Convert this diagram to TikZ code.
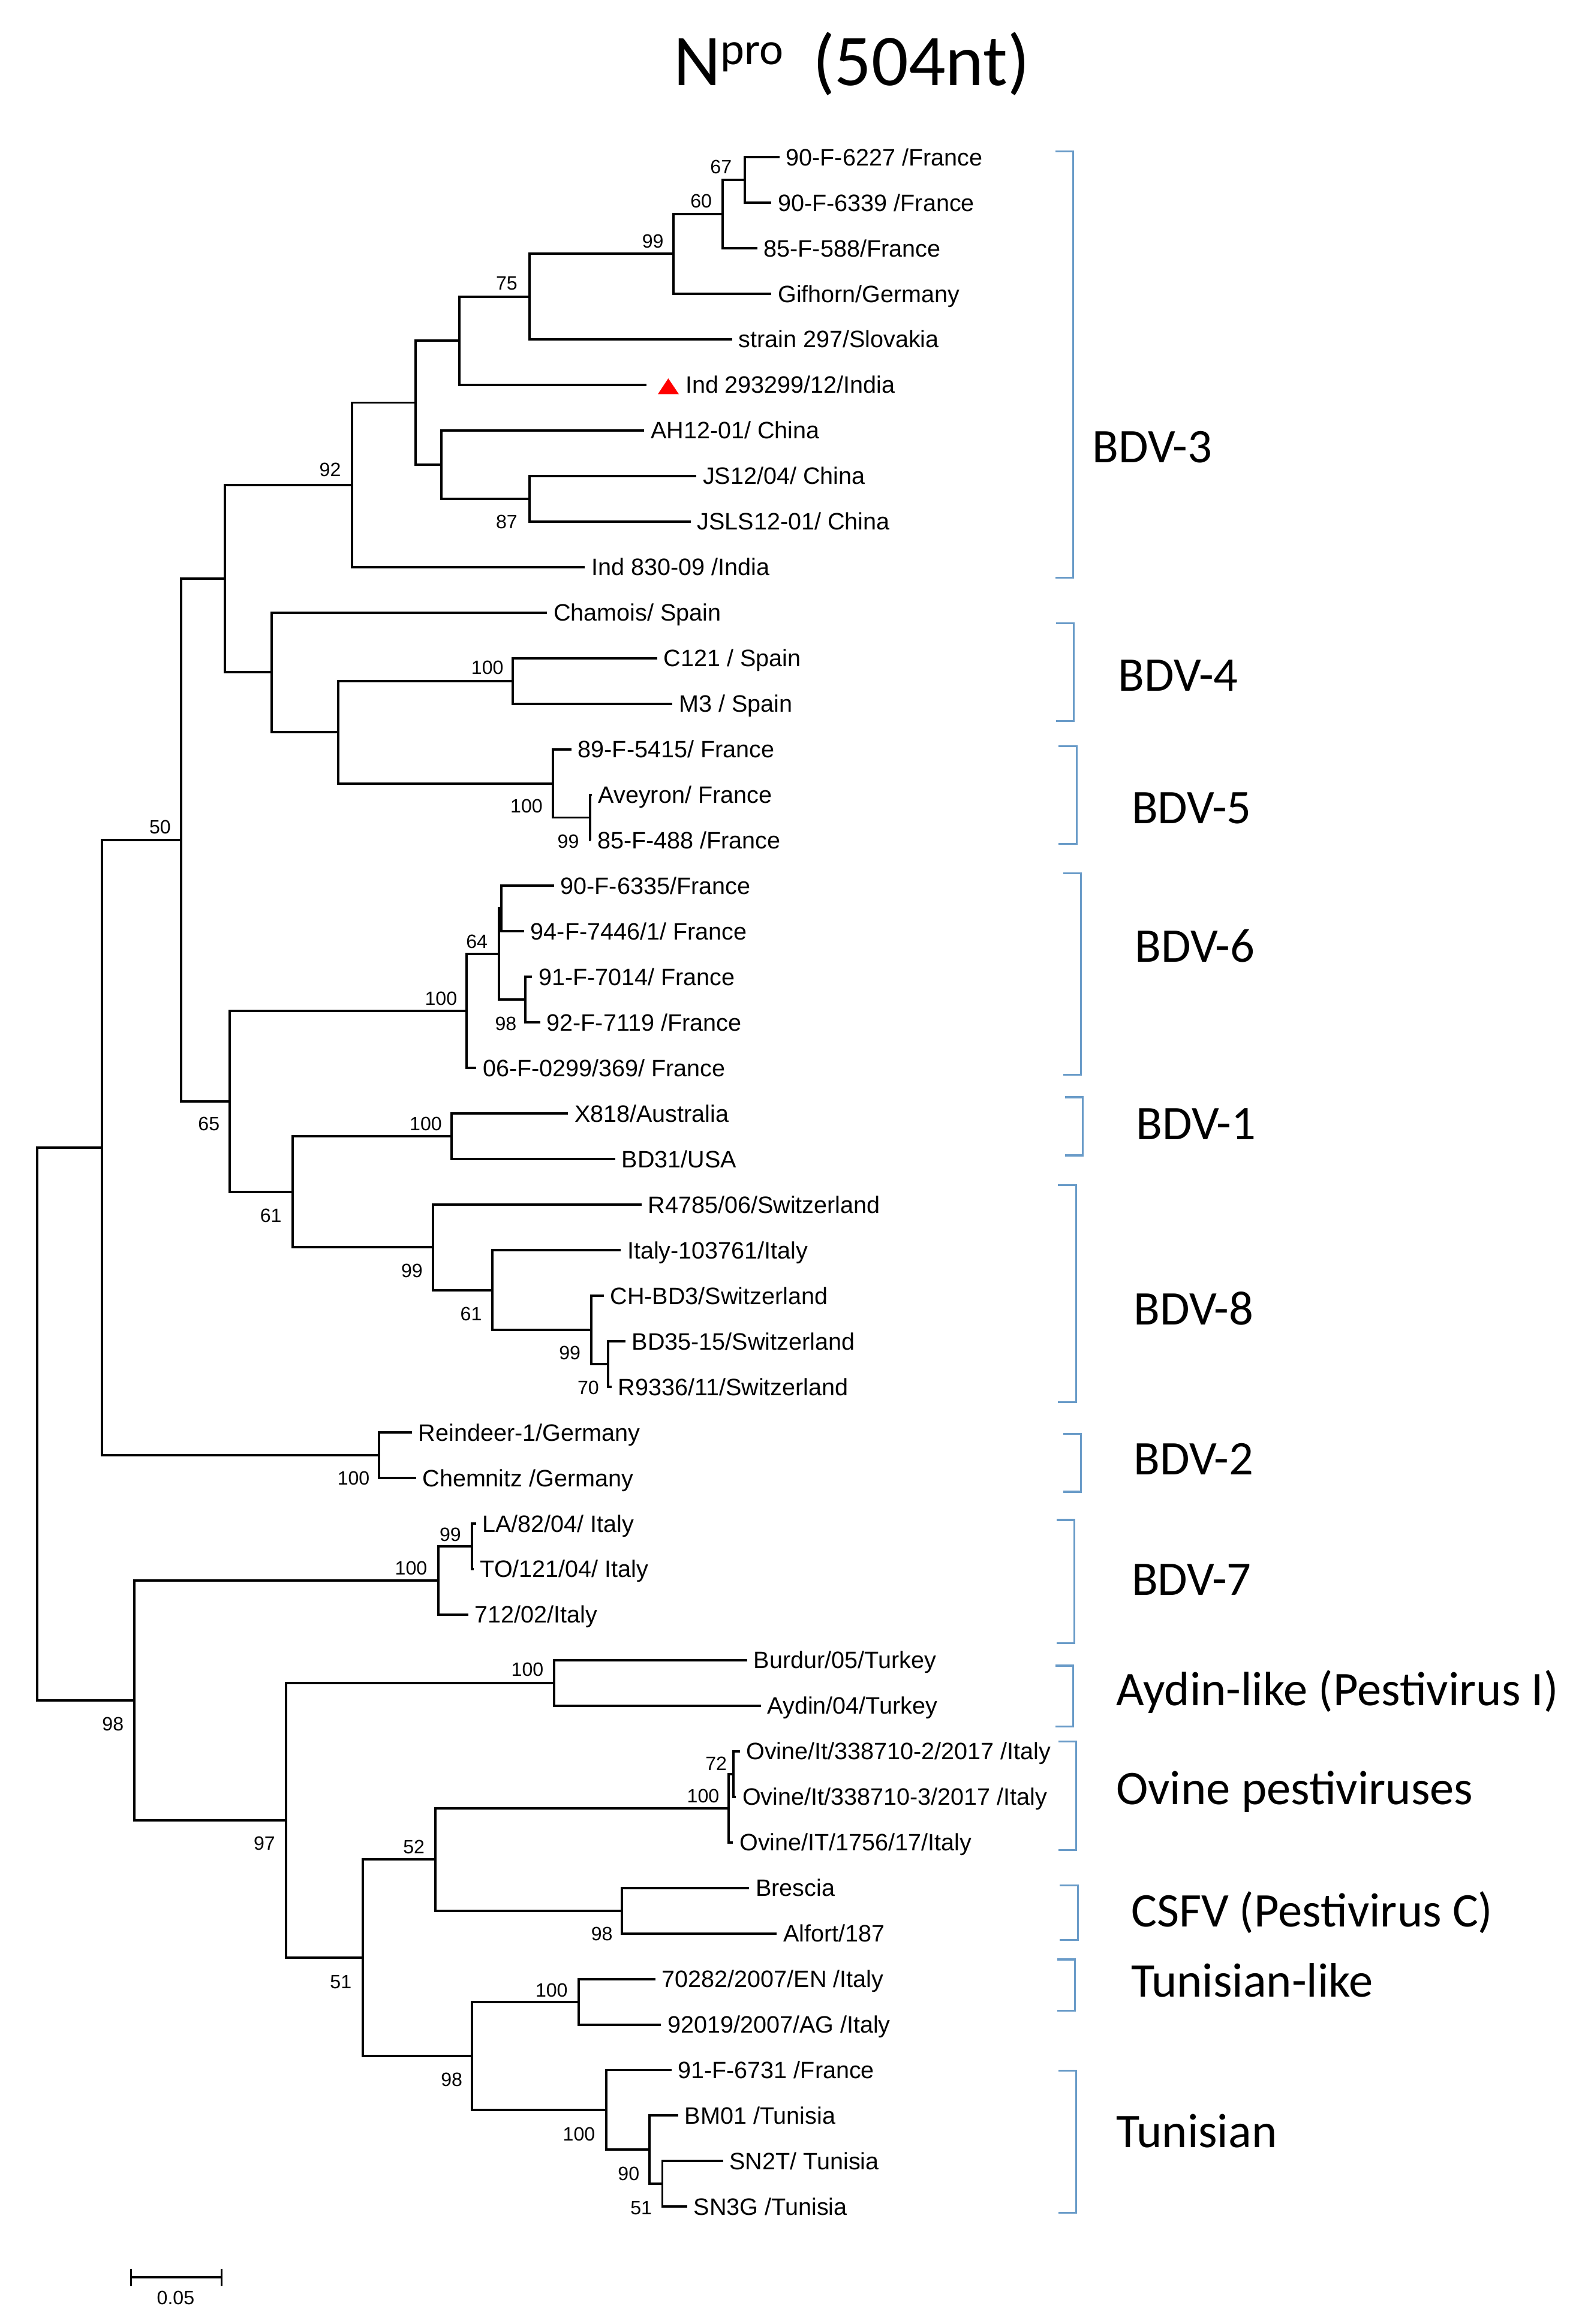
\documentclass[tikz,border=0pt]{standalone}
\usepackage{fontspec}
\usetikzlibrary{calc}
\newfontfamily\leaffont{Liberation Sans}
\newfontfamily\cladefont{Carlito}
\definecolor{bracketblue}{RGB}{105,155,200}
\tikzset{
  branch/.style={line width=0.8pt, line join=miter},
  leaflab/.style={anchor=base west, inner sep=0pt, font=\leaffont\fontsize{8pt}{9pt}\selectfont},
  boot/.style={anchor=center, inner sep=0pt, font=\leaffont\fontsize{6.5pt}{7pt}\selectfont},
  cladelab/.style={anchor=base west, inner sep=0pt, font=\cladefont\fontsize{16.3pt}{18pt}\selectfont},
  bracketline/.style={draw=bracketblue, line width=0.65pt},
}
\newcommand\leafat[3]{%
  \coordinate (L#1) at (#2,{106+(#1-1)*30.73});
  \node[leaflab] (T#1) at ({#2+4},{111.7+(#1-1)*30.73}) {#3};}
\newcommand\tnode[4]{%
  \path let \p1=(#3), \p2=(#4) in coordinate (#1) at ({#2*0.5pt},{0.5*\y1+0.5*\y2});
  \draw[branch] (#3) -| (#1) |- (#4);}
\newcommand\clade[7]{%
  \draw[bracketline] ({#2-12},#3) -- (#2,#3) -- (#2,#4) -- ({#2-12},#4);
  \node[cladelab] (#1) at (#5,#6) {#7};}
\begin{document}
\begin{tikzpicture}[x=0.5pt,y=-0.5pt]
\useasboundingbox (0,0) rectangle (1063,1568);
% title
\node[anchor=base west, inner sep=0pt, font=\cladefont\fontsize{24.6pt}{28pt}\selectfont] (title) at (454,57.5)
  {N\raisebox{7pt}{\fontsize{15.3pt}{16pt}\selectfont pro}\hspace{9.8pt}(504nt)};
% leaves
\leafat{1}{525.8}{90-F-6227 /France}
\leafat{2}{520.4}{90-F-6339 /France}
\leafat{3}{510.8}{85-F-588/France}
\leafat{4}{520.4}{Gifhorn/Germany}
\leafat{5}{493.8}{strain 297/Slovakia}
\coordinate (L6) at (436.2,{106+5*30.73});
\node[leaflab] (T6) at (462,{111.7+5*30.73}) {Ind 293299/12/India};
\fill[red] (443.8,265.9) -- (450.8,255.3) -- (457.9,265.9) -- cycle;
\leafat{7}{434.6}{AH12-01/ China}
\leafat{8}{469.8}{JS12/04/ China}
\leafat{9}{466}{JSLS12-01/ China}
\leafat{10}{394.6}{Ind 830-09 /India}
\leafat{11}{369.1}{Chamois/ Spain}
\leafat{12}{443.4}{C121 / Spain}
\leafat{13}{453.6}{M3 / Spain}
\leafat{14}{385.5}{89-F-5415/ France}
\leafat{15}{399.2}{Aveyron/ France}
\leafat{16}{398.6}{85-F-488 /France}
\leafat{17}{373.7}{90-F-6335/France}
\leafat{18}{353.6}{94-F-7446/1/ France}
\leafat{19}{358.9}{91-F-7014/ France}
\leafat{20}{364.4}{92-F-7119 /France}
\leafat{21}{321.3}{06-F-0299/369/ France}
\leafat{22}{383.2}{X818/Australia}
\leafat{23}{415}{BD31/USA}
\leafat{24}{432.8}{R4785/06/Switzerland}
\leafat{25}{418.8}{Italy-103761/Italy}
\leafat{26}{407.2}{CH-BD3/Switzerland}
\leafat{27}{421.9}{BD35-15/Switzerland}
\leafat{28}{412.5}{R9336/11/Switzerland}
\leafat{29}{277.9}{Reindeer-1/Germany}
\leafat{30}{280.6}{Chemnitz /Germany}
\leafat{31}{321}{LA/82/04/ Italy}
\leafat{32}{319.5}{TO/121/04/ Italy}
\leafat{33}{315.9}{712/02/Italy}
\leafat{34}{504}{Burdur/05/Turkey}
\leafat{35}{513.3}{Aydin/04/Turkey}
\leafat{36}{499}{Ovine/It/338710-2/2017 /Italy}
\leafat{37}{496.5}{Ovine/It/338710-3/2017 /Italy}
\leafat{38}{494.5}{Ovine/IT/1756/17/Italy}
\leafat{39}{505.4}{Brescia}
\leafat{40}{524}{Alfort/187}
\leafat{41}{442.2}{70282/2007/EN /Italy}
\leafat{42}{445.9}{92019/2007/AG /Italy}
\leafat{43}{452.9}{91-F-6731 /France}
\leafat{44}{457.5}{BM01 /Tunisia}
\leafat{45}{487.7}{SN2T/ Tunisia}
\leafat{46}{463.6}{SN3G /Tunisia}
% internal nodes (bottom-up)
\tnode{n67}{502.4}{L1}{L2}
\tnode{n60}{487.4}{n67}{L3}
\tnode{n99a}{454.4}{n60}{L4}
\tnode{n75}{357.2}{n99a}{L5}
\tnode{nU1}{309.8}{n75}{L6}
\tnode{n87}{357.2}{L8}{L9}
\tnode{nChina}{297.6}{L7}{n87}
\tnode{nU2}{280.4}{nU1}{nChina}
\tnode{n92}{237.3}{nU2}{L10}
\tnode{n100a}{345.9}{L12}{L13}
\tnode{n99b}{397.9}{L15}{L16}
\tnode{n100b}{373.1}{L14}{n99b}
\tnode{nU3}{228.2}{n100a}{n100b}
\tnode{nU4}{183.3}{L11}{nU3}
\tnode{nU5}{151.7}{n92}{nU4}
\tnode{nX}{338.2}{L17}{L18}
\tnode{n98c}{354.5}{L19}{L20}
\tnode{n64}{336.6}{nX}{n98c}
\tnode{n100c}{314.6}{n64}{L21}
\tnode{n100d}{304.6}{L22}{L23}
\tnode{n70}{410.3}{L27}{L28}
\tnode{n99d}{398.7}{L26}{n70}
\tnode{n61b}{332.1}{L25}{n99d}
\tnode{n99e}{291.9}{L24}{n61b}
\tnode{n61a}{197.4}{n100d}{n99e}
\tnode{n65}{154.8}{n100c}{n61a}
\tnode{n50}{122.3}{nU5}{n65}
\tnode{n100e}{255.5}{L29}{L30}
\tnode{nA}{68.9}{n50}{n100e}
\tnode{n99f}{318.2}{L31}{L32}
\tnode{n100f}{295.9}{n99f}{L33}
\tnode{n100g}{373.9}{L34}{L35}
\tnode{n72}{494.7}{L36}{L37}
\tnode{n100h}{491.4}{n72}{L38}
\tnode{n98g}{419.4}{L39}{L40}
\tnode{n52}{293.6}{n100h}{n98g}
\tnode{n100i}{390.2}{L41}{L42}
\tnode{n51b}{446.8}{L45}{L46}
\tnode{n90}{438}{L44}{n51b}
\tnode{n100j}{408.8}{L43}{n90}
\tnode{n98h}{318.2}{n100i}{n100j}
\tnode{n51a}{244.8}{n52}{n98h}
\tnode{n97}{192.8}{n100g}{n51a}
\tnode{nB}{90.6}{n100f}{n97}
\tnode{root}{25.2}{nA}{nB}
% bootstrap values
\node[boot] (b67) at (486.4,112.5) {67};
\node[boot] (b60) at (473,135.7) {60};
\node[boot] (b99a) at (440.4,162.8) {99};
\node[boot] (b75) at (341.8,191) {75};
\node[boot] (b87) at (341.8,352) {87};
\node[boot] (b92) at (222.7,317) {92};
\node[boot] (b100a) at (328.8,450.3) {100};
\node[boot] (b100b) at (355.2,544) {100};
\node[boot] (b99b) at (383.3,567.8) {99};
\node[boot] (b50) at (108,558.2) {50};
\node[boot] (b64) at (321.7,635.1) {64};
\node[boot] (b100c) at (297.5,673.6) {100};
\node[boot] (b98c) at (341.2,690.6) {98};
\node[boot] (b65) at (140.9,758.2) {65};
\node[boot] (b100d) at (287.2,758.2) {100};
\node[boot] (b61a) at (182.7,820.1) {61};
\node[boot] (b99e) at (277.9,857.3) {99};
\node[boot] (b61b) at (317.8,886.7) {61};
\node[boot] (b99d) at (384.4,913) {99};
\node[boot] (b70) at (396.8,936.2) {70};
\node[boot] (b100e) at (238.5,997.5) {100};
\node[boot] (b99f) at (303.8,1035.3) {99};
\node[boot] (b100f) at (277.3,1058.1) {100};
\node[boot] (b98B) at (76.2,1163.4) {98};
\node[boot] (b100g) at (355.8,1126.6) {100};
\node[boot] (b72) at (483.1,1190) {72};
\node[boot] (b100h) at (474.3,1211.9) {100};
\node[boot] (b97) at (178.4,1243.9) {97};
\node[boot] (b52) at (279.2,1246) {52};
\node[boot] (b98g) at (406,1304.8) {98};
\node[boot] (b51a) at (229.9,1337.3) {51};
\node[boot] (b100i) at (372.1,1342.9) {100};
\node[boot] (b98h) at (304.7,1403.1) {98};
\node[boot] (b100j) at (390.6,1440.1) {100};
\node[boot] (b90) at (424.1,1466.8) {90};
\node[boot] (b51b) at (432.5,1489.8) {51};
% clade brackets and names
\clade{c3}{724}{102.3}{389.9}{736.5}{312}{BDV-3}
\clade{c4}{724.4}{420.4}{486.4}{754}{466.2}{BDV-4}
\clade{c5}{726.2}{503.3}{569.5}{763}{555.6}{BDV-5}
\clade{c6}{729.1}{589.3}{725.2}{765.3}{649}{BDV-6}
\clade{c1}{730.3}{740.3}{779.5}{766}{769}{BDV-1}
\clade{c8}{725.8}{799.7}{946.1}{764.4}{893.8}{BDV-8}
\clade{c2}{729.1}{967.4}{1006.5}{764.4}{994.8}{BDV-2}
\clade{c7}{724.6}{1025.5}{1108.7}{763}{1076.2}{BDV-7}
\clade{cA}{724}{1123.8}{1165}{752.5}{1150.8}{Aydin-like (Pestivirus I)}
\clade{cO}{726}{1175}{1248.2}{752.5}{1217.5}{Ovine pestiviruses}
\clade{cC}{727}{1272}{1309}{762.6}{1299.8}{CSFV (Pestivirus C)}
\clade{cTL}{725}{1322}{1356.6}{762.6}{1347.5}{Tunisian-like}
\clade{cT}{726}{1397}{1492.9}{752.5}{1448.9}{Tunisian}
% scale bar
\coordinate (sbL) at (88.3,1536.6);
\coordinate (sbR) at (149.6,1536.6);
\draw[branch] (sbL) -- (sbR);
\draw[line width=0.6pt] ([yshift=3pt]sbL) -- ([yshift=-2.9pt]sbL);
\draw[line width=0.6pt] ([yshift=3pt]sbR) -- ([yshift=-2.9pt]sbR);
\node[boot] (sblab) at (118.5,1550.5) {0.05};
\end{tikzpicture}
\end{document}
